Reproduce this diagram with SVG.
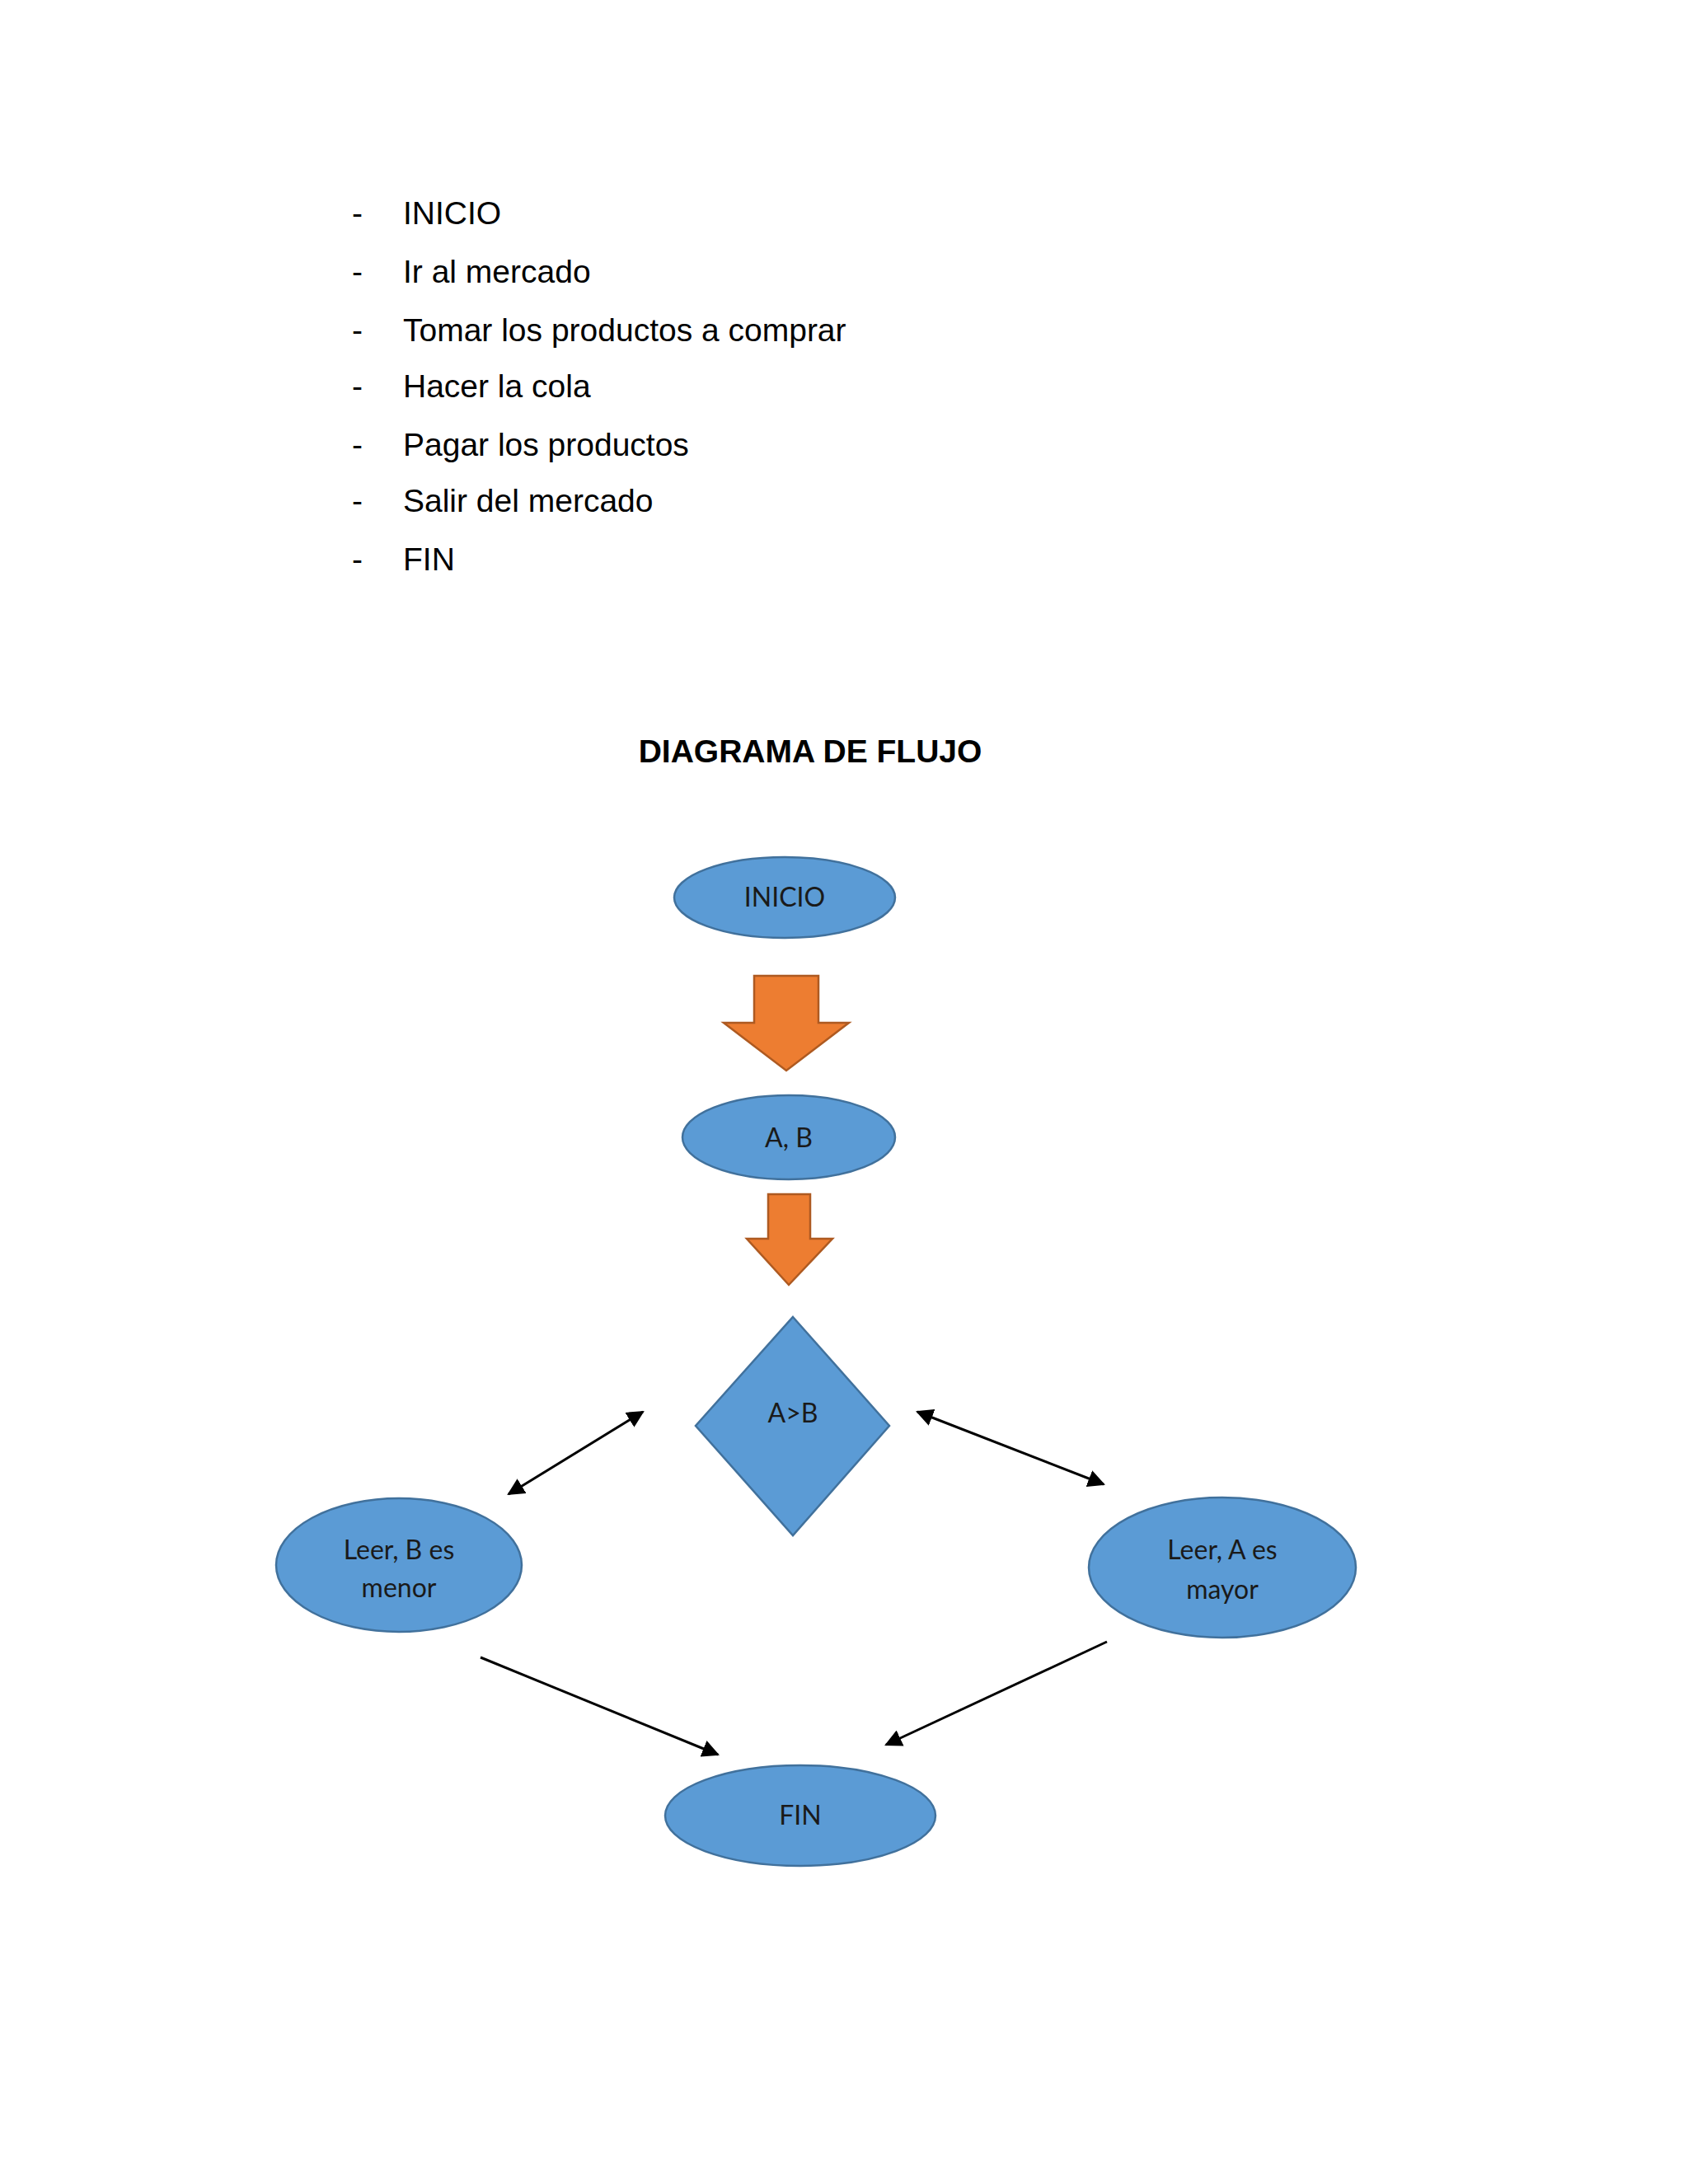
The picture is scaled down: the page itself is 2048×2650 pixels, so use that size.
<svg xmlns="http://www.w3.org/2000/svg" width="2048" height="2650" viewBox="0 0 2048 2650">
<style>
.l{font-family:"Liberation Sans",Arial,sans-serif;font-size:39px;fill:#000}
.n{fill:#5b9bd5;stroke:#41719c;stroke-width:2.5}
.o{fill:#ed7d31;stroke:#ae5a21;stroke-width:2.5}
.t{font-family:Lato,"Open Sans",sans-serif;font-size:32px;fill:#1a1a1a;text-anchor:middle}
.c{stroke:#000;stroke-width:3;fill:none}
</style>
<defs>
<marker id="a" viewBox="0 0 10 10" refX="9" refY="5" markerWidth="7" markerHeight="7" orient="auto-start-reverse"><path d="M0,0L10,5L0,10z" fill="#000"/></marker>
</defs>
<rect width="2048" height="2650" fill="#fff"/>
<g id="lista">
<g class="l">
<text x="427" y="272">-</text><text x="489" y="272">INICIO</text>
<text x="427" y="343">-</text><text x="489" y="343">Ir al mercado</text>
<text x="427" y="414">-</text><text x="489" y="414">Tomar los productos a comprar</text>
<text x="427" y="482">-</text><text x="489" y="482">Hacer la cola</text>
<text x="427" y="553">-</text><text x="489" y="553">Pagar los productos</text>
<text x="427" y="621">-</text><text x="489" y="621">Salir del mercado</text>
<text x="427" y="692">-</text><text x="489" y="692">FIN</text>
</g>
<text x="983" y="925" font-family="Liberation Sans,Arial,sans-serif" font-size="39" font-weight="bold" text-anchor="middle">DIAGRAMA DE FLUJO</text>
</g>
<g id="inicio"><ellipse class="n" cx="952" cy="1089" rx="134" ry="49"/><text class="t" x="952" y="1100">INICIO</text></g>
<g id="flecha1"><path class="o" d="M915,1184H993V1241H1030L954,1299L878,1241H915Z"/></g>
<g id="ab"><ellipse class="n" cx="957" cy="1380" rx="129" ry="51"/><text class="t" x="957" y="1392">A, B</text></g>
<g id="flecha2"><path class="o" d="M932,1449H983V1503H1010L957,1559L906,1503H932Z"/></g>
<g id="decision"><path class="n" d="M962,1598L1079,1730L962,1863L844,1730Z"/><text class="t" x="962" y="1726">A&gt;B</text></g>
<g id="menor"><ellipse class="n" cx="484" cy="1899" rx="149" ry="81"/><text class="t" x="484" y="1892">Leer, B es</text><text class="t" x="484" y="1938">menor</text></g>
<g id="mayor"><ellipse class="n" cx="1483" cy="1902" rx="162" ry="85"/><text class="t" x="1483" y="1892">Leer, A es</text><text class="t" x="1483" y="1940">mayor</text></g>
<g id="fin"><ellipse class="n" cx="971" cy="2203" rx="164" ry="61"/><text class="t" x="971" y="2214">FIN</text></g>
<g id="conectores">
<line class="c" x1="617" y1="1813" x2="780" y2="1713" marker-start="url(#a)" marker-end="url(#a)"/>
<line class="c" x1="1113" y1="1713" x2="1339" y2="1801" marker-start="url(#a)" marker-end="url(#a)"/>
<line class="c" x1="583" y1="2011" x2="871" y2="2129" marker-end="url(#a)"/>
<line class="c" x1="1343" y1="1992" x2="1075" y2="2117" marker-end="url(#a)"/>
</g>
</svg>
